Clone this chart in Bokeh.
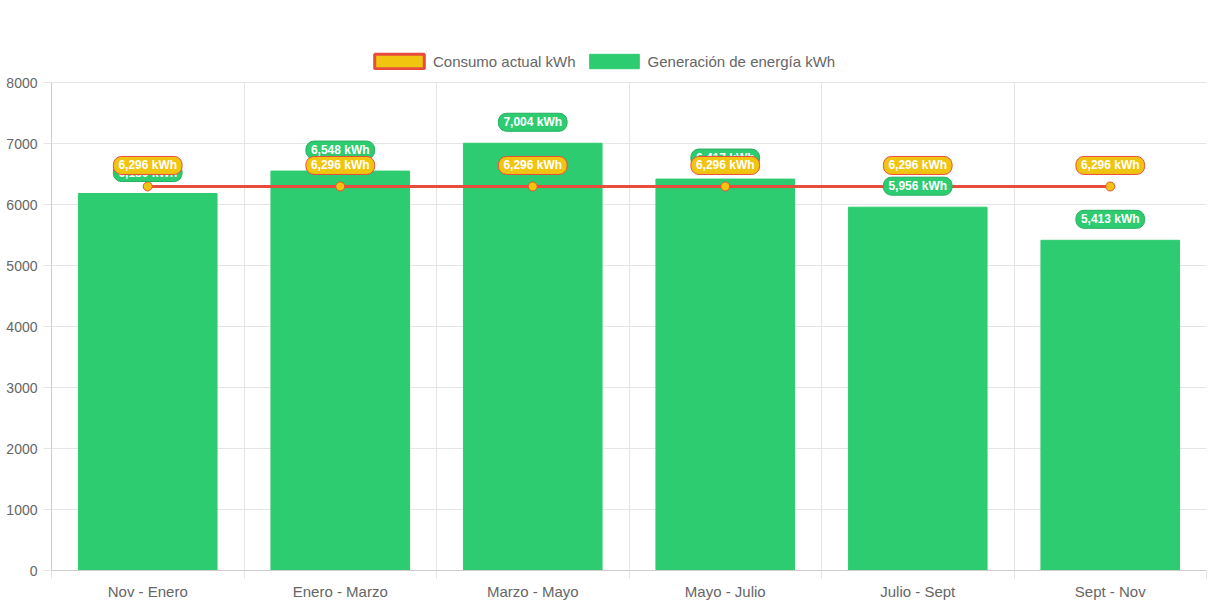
from bokeh.plotting import figure
from bokeh.models import Range1d, FixedTicker, Legend, LegendItem, ColumnDataSource
from bokeh.core.properties import value
from bokeh.embed import file_html
from bokeh.resources import INLINE

categories = ["Nov - Enero", "Enero - Marzo", "Marzo - Mayo", "Mayo - Julio", "Julio - Sept", "Sept - Nov"]
generacion = [6180, 6548, 7004, 6417, 5956, 5413]
consumo = [6296, 6296, 6296, 6296, 6296, 6296]
y_ticks = [0, 1000, 2000, 3000, 4000, 5000, 6000, 7000, 8000]
Y_MAX = 8000

FONT = "Liberation Sans"
GREEN = "#2ecc71"
YELLOW = "#f1c40f"
RED = "#e74c3c"
GRID = "#e5e5e5"

# layout (pixels)
TOP, BOTTOM, LEFT, RIGHT = 30, 32, 51, 2
W, H = 1208, 602
AXIS_PX = 488              # pixel height of the 0..8000 span
FRAME_H = H - TOP - BOTTOM
y_end = Y_MAX * FRAME_H / AXIS_PX   # headroom so the legend sits inside the frame

xs = [i + 0.5 for i in range(len(categories))]

src = ColumnDataSource(dict(
    x=xs,
    gen=generacion,
    con=consumo,
    gen_lbl=[f"{v:,} kWh" for v in generacion],
    con_lbl=[f"{v:,} kWh" for v in consumo],
))

p = figure(width=W, height=H, output_backend="svg", toolbar_location=None,
           x_range=Range1d(0, len(categories)), y_range=Range1d(0, y_end),
           min_border_left=LEFT, min_border_right=RIGHT, min_border_top=TOP, min_border_bottom=BOTTOM)
p.outline_line_color = None
p.background_fill_color = "white"

bars = p.vbar(x="x", top="gen", width=0.72, source=src, fill_color=GREEN, line_color=GREEN)
line = p.line(x="x", y="con", source=src, line_color=RED, line_width=3)
p.scatter(x="x", y="con", source=src, size=9, marker="circle", fill_color=YELLOW, line_color=RED, line_width=1)
nan = float("nan")
dummy = p.quad(left=[nan], right=[nan], top=[nan], bottom=[nan], fill_color=YELLOW, line_color=RED, line_width=3)

# labels
p.text(x="x", y="gen", text="gen_lbl", source=src, text_align="center", text_baseline="middle",
       y_offset=-21, text_color="white", text_font=value(FONT), text_font_style="bold",
       text_font_size="12px", background_fill_color=GREEN, border_line_color="#27ae60",
       border_line_width=1, border_radius=8, padding=[5, 2])
p.text(x="x", y="con", text="con_lbl", source=src, text_align="center", text_baseline="middle",
       y_offset=-21, text_color="white", text_font=value(FONT), text_font_style="bold",
       text_font_size="12px", background_fill_color=YELLOW, border_line_color=RED,
       border_line_width=1, border_radius=8, padding=[5, 2])

# axes
xa = p.xaxis[0]
xa.ticker = FixedTicker(ticks=xs, minor_ticks=list(range(len(categories) + 1)))
xa.major_label_overrides = {x: c for x, c in zip(xs, categories)}
xa.major_tick_out = 0
xa.major_tick_in = 0
xa.minor_tick_out = 8
xa.minor_tick_in = 0
xa.minor_tick_line_color = GRID
xa.axis_line_color = "#cccccc"
xa.major_label_text_font = FONT
xa.major_label_text_font_size = "15px"
xa.major_label_text_color = "#666666"
xa.major_label_standoff = 4

ya = p.yaxis[0]
ya.ticker = FixedTicker(ticks=y_ticks)
ya.bounds = (0, Y_MAX)
ya.major_tick_out = 8
ya.major_tick_in = 0
ya.major_tick_line_color = GRID
ya.minor_tick_line_color = None
ya.axis_line_color = "#cccccc"
ya.major_label_text_font = FONT
ya.major_label_text_font_size = "14px"
ya.major_label_text_color = "#666666"
ya.major_label_standoff = 6

p.xgrid.ticker = FixedTicker(ticks=list(range(len(categories) + 1)))
p.xgrid.cross_bounds = (0, Y_MAX)
p.xgrid.grid_line_color = GRID
p.ygrid.ticker = FixedTicker(ticks=y_ticks)
p.ygrid.grid_line_color = GRID

legend = Legend(items=[LegendItem(label="Consumo actual kWh", renderers=[dummy]),
                       LegendItem(label="Generación de energía kWh", renderers=[bars])],
                orientation="horizontal", location=(317, 500),
                glyph_width=62, glyph_height=18, label_standoff=3, spacing=7,
                label_text_font=FONT, label_text_font_size="15px", label_text_color="#666666",
                border_line_color=None, background_fill_alpha=0, margin=0, padding=4)
p.add_layout(legend, "center")

open("out.html", "w").write(file_html(p, INLINE))
